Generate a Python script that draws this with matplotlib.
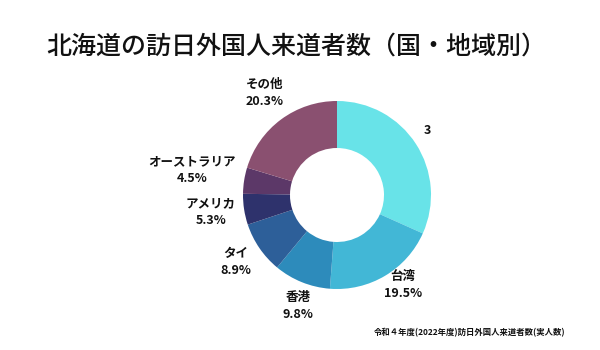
import matplotlib
matplotlib.use("Agg")
import matplotlib.pyplot as plt

plt.rcParams['font.family'] = ['Noto Sans CJK JP', 'DejaVu Sans']

countries = ['韓国', '台湾', '香港', 'タイ', 'アメリカ', 'オーストラリア', 'その他']
shares = [31.7, 19.5, 9.8, 8.9, 5.3, 4.5, 20.3]
colors = ['#68e3e8', '#42b7d6', '#2d8bbb', '#2d5f99', '#2e326c', '#5c3868', '#8a5070']

# label text as seen in the picture (the first one is cut off)
labels = ['3', '台湾\n19.5%', '香港\n9.8%', 'タイ\n8.9%', 'アメリカ\n5.3%',
          'オーストラリア\n4.5%', 'その他\n20.3%']
label_pos = [(427, 220), (403, 65), (298, 44), (236, 88), (211, 138), (192, 180), (265, 257)]

fig = plt.figure(figsize=(6, 3.5), dpi=100)
ax = fig.add_axes([0, 0, 1, 1])
ax.set_xlim(0, 600)
ax.set_ylim(0, 350)
ax.set_aspect('equal')
ax.axis('off')

ax.pie(shares, colors=colors, startangle=90, counterclock=False,
       center=(337, 155), radius=94, wedgeprops=dict(width=47, linewidth=0))
ax.set_xlim(0, 600)
ax.set_ylim(0, 350)

for (x, y), t in zip(label_pos, labels):
    ax.text(x, y, t, ha='center', va='center', fontsize=9, fontweight='bold',
            linespacing=1.45, color='#111111')

ax.text(296, 303, '北海道の訪日外国人来道者数（国・地域別）', ha='center', va='center',
        fontsize=18, fontweight='medium', color='#111111')
ax.text(565, 17, '令和４年度(2022年度)訪日外国人来道者数(実人数)', ha='right', va='center',
        fontsize=6, fontweight='bold', color='#111111')

fig.savefig('out.png', dpi=100, facecolor='white')
